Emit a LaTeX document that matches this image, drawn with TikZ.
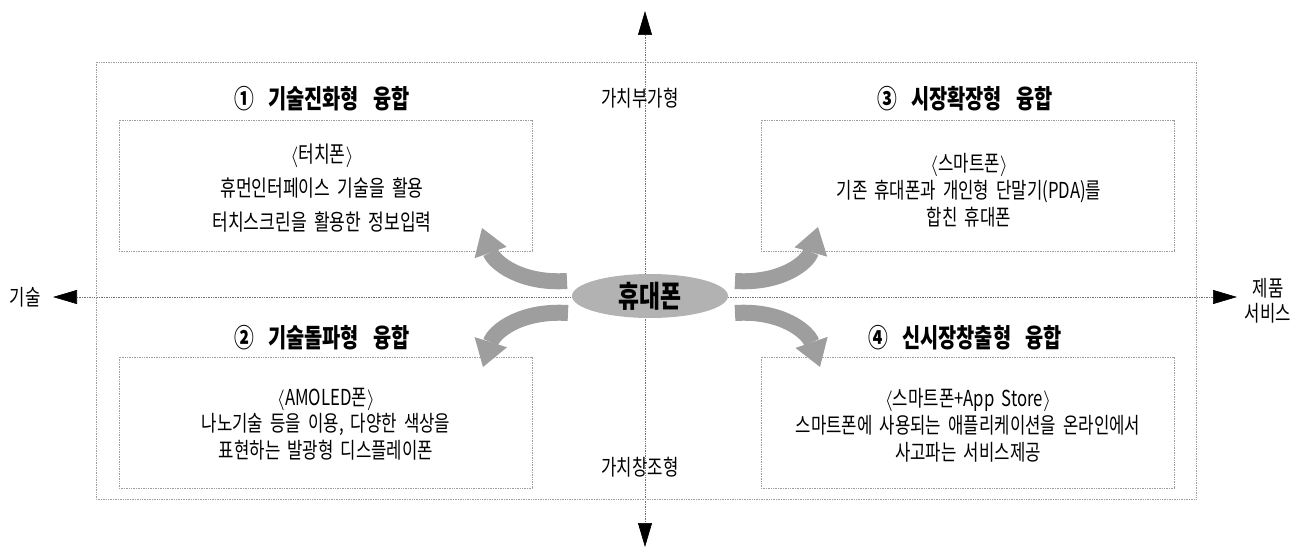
\documentclass[tikz,border=0pt]{standalone}
\usepackage{fontspec}
\setmainfont{Noto Sans CJK KR}[FakeStretch=0.76,WordSpace=1.9]
\usetikzlibrary{arrows.meta,shapes.geometric}
\definecolor{dotgray}{rgb}{0.45,0.45,0.45}
\definecolor{boxgray}{rgb}{0.62,0.62,0.62}
\definecolor{swirl}{rgb}{0.62,0.62,0.62}
\newcommand{\wgap}{\hspace{0.55em}}

\begin{document}
\begin{tikzpicture}[x=1pt, y=-1pt,
	axis/.style={draw=dotgray, densely dotted, line width=0.7pt},
	frame/.style={draw=boxgray, densely dotted, line width=0.7pt},
	head/.style={font=\fontsize{26}{30}\selectfont\bfseries},
	label/.style={font=\fontsize{22}{26}\selectfont, inner sep=0pt},
	swoosh/.style={draw=swirl, line width=16pt, -{Triangle[length=26pt,width=34pt,line width=0pt]}}]
	\useasboundingbox (0,0) rectangle (1305,548);

	% Axes
	\coordinate (axW) at (53,297);
	\coordinate (axE) at (1237,297);
	\coordinate (axN) at (645,11);
	\coordinate (axS) at (645,547);
	\draw[axis, {Triangle[length=24pt,width=14pt,black]}-{Triangle[length=24pt,width=14pt,black]}] (axW) -- (axE);
	\draw[axis, {Triangle[length=24pt,width=14pt,black]}-{Triangle[length=24pt,width=14pt,black]}] (axN) -- (axS);

	% Labels for axes
	\node[label] (tech) at (25,297) {기술};
	\node[label, align=center, font=\fontsize{22}{25}\selectfont] (prod) at (1268,301) {제품\\서비스};
	\node[label] (vadd) at (640,98) {가치부가형};
	\node[label] (vcre) at (640,467) {가치창조형};

	% Outer frame and the four boxes
	\draw[frame] (96,62) rectangle (1196,499);
	\foreach \x/\y in {119/120, 761/120, 119/357, 761/357}
	\draw[frame] (\x,\y) rectangle ++(413,131);

	% Titles
	\node[head] (h1) at (322,99) {①\wgap 기술진화형\wgap 융합};
	\node[head] (h2) at (322,338) {②\wgap 기술돌파형\wgap 융합};
	\node[head] (h3) at (965,99) {③\wgap 시장확장형\wgap 융합};
	\node[head] (h4) at (965,338) {④\wgap 신시장창출형\wgap 융합};

	% Contents of the boxes
	\node[label, align=center, font=\fontsize{22.5}{34}\selectfont] (c1) at (322,188) {\(\langle\)터치폰\(\rangle\)\\휴먼인터페이스 기술을 활용\\터치스크린을 활용한 정보입력};
	\node[label, align=center, font=\fontsize{22}{27}\selectfont] (c3) at (969,190) {\(\langle\)스마트폰\(\rangle\)\\기존 휴대폰과 개인형 단말기(PDA)를\\합친 휴대폰};
	\node[label, align=center, font=\fontsize{22}{26.5}\selectfont] (c2) at (326,424) {\(\langle\)AMOLED폰\(\rangle\)\\나노기술 등을 이용, 다양한 색상을\\표현하는 발광형 디스플레이폰};
	\node[label, align=center, font=\fontsize{22}{27}\selectfont] (c4) at (968,425) {\(\langle\)스마트폰+App Store\(\rangle\)\\스마트폰에 사용되는 애플리케이션을 온라인에서\\사고파는 서비스제공};

	% Swooshes out of the phone
	\coordinate (ul) at (567,281);
	\coordinate (ll) at (568,313);
	\coordinate (ur) at (735,281);
	\coordinate (lr) at (735,313);
	\coordinate (ulTip) at (482,228);
	\coordinate (llTip) at (483,367);
	\coordinate (urTip) at (818,227);
	\coordinate (lrTip) at (820,367);
	\draw[swoosh] (ul) .. controls (520,284) and (494,262) .. (ulTip);
	\draw[swoosh] (ll) .. controls (520,310) and (494,332) .. (llTip);
	\draw[swoosh] (ur) .. controls (782,284) and (808,262) .. (urTip);
	\draw[swoosh] (lr) .. controls (782,310) and (808,332) .. (lrTip);

	% Phone in the middle
	\node[ellipse, fill=black!30, minimum width=156pt, minimum height=44pt, inner sep=0pt,
		font=\fontsize{30}{32}\selectfont\bfseries] (phone) at (650,296) {휴대폰};
\end{tikzpicture}
\end{document}
